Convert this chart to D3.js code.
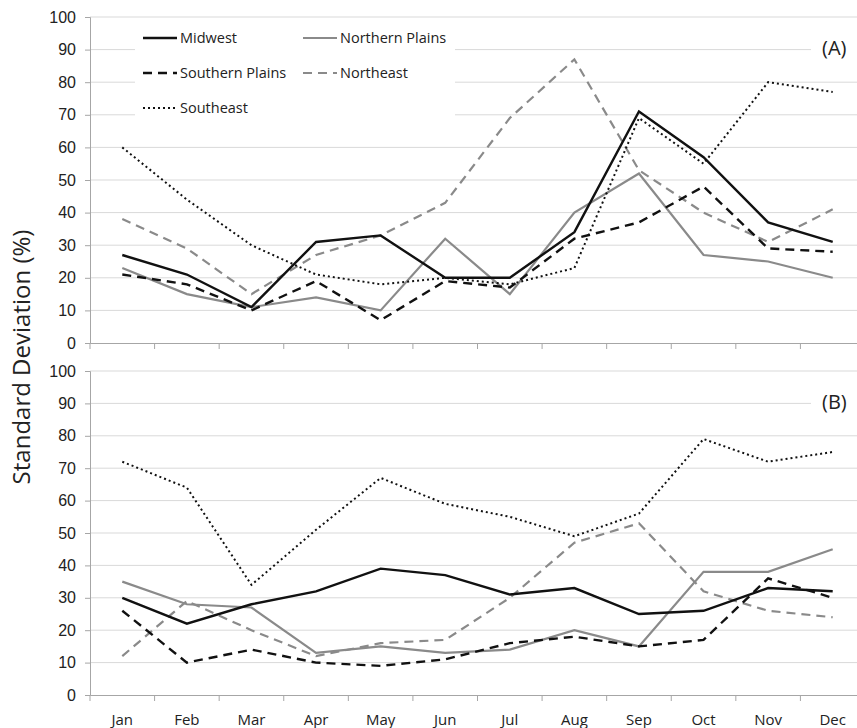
<!DOCTYPE html>
<html>
<head>
<meta charset="utf-8">
<script src="https://cdn.jsdelivr.net/npm/d3@7/dist/d3.min.js"></script>
<style>
  body { margin: 0; background: #fff; }
  svg { display: block; font-family: 'Open Sans', 'Noto Sans', sans-serif; }
  .tick-label { fill: #222; font-size: 16px; }
</style>
</head>
<body>
<svg width="857" height="728"></svg>
<script>
const months = ['Jan', 'Feb', 'Mar', 'Apr', 'May', 'Jun', 'Jul', 'Aug', 'Sep', 'Oct', 'Nov', 'Dec'];
const yTicks = [0, 10, 20, 30, 40, 50, 60, 70, 80, 90, 100];
const regions = ['Midwest', 'Northern Plains', 'Southern Plains', 'Northeast', 'Southeast'];

// panel (A)
const midwestA = [27, 21, 11, 31, 33, 20, 20, 34, 71, 57, 37, 31];
const northernPlainsA = [23, 15, 11, 14, 10, 32, 15, 40, 52, 27, 25, 20];
const southernPlainsA = [21, 18, 10, 19, 7, 19, 17, 32, 37, 48, 29, 28];
const northeastA = [38, 29, 15, 27, 33, 43, 69, 87, 53, 40, 31, 41];
const southeastA = [60, 44, 30, 21, 18, 20, 18, 23, 69, 55, 80, 77];

// panel (B)
const midwestB = [30, 22, 28, 32, 39, 37, 31, 33, 25, 26, 33, 32];
const northernPlainsB = [35, 28, 27, 13, 15, 13, 14, 20, 15, 38, 38, 45];
const southernPlainsB = [26, 10, 14, 10, 9, 11, 16, 18, 15, 17, 36, 30];
const northeastB = [12, 29, 20, 12, 16, 17, 30, 47, 53, 32, 26, 24];
const southeastB = [72, 64, 34, 51, 67, 59, 55, 49, 56, 79, 72, 75];

const styles = {
  'Midwest': { color: '#111', width: 2.4, dash: null },
  'Northern Plains': { color: '#8a8a8a', width: 2.2, dash: null },
  'Southern Plains': { color: '#111', width: 2.4, dash: '9,6' },
  'Northeast': { color: '#8a8a8a', width: 2.2, dash: '9,6' },
  'Southeast': { color: '#111', width: 2, dash: '2,3' }
};

const svg = d3.select('svg');
const x = d3.scaleBand().domain(months).range([90, 865]);

const panels = [
  { tag: '(A)', top: 17, bottom: 343, series: [midwestA, northernPlainsA, southernPlainsA, northeastA, southeastA] },
  { tag: '(B)', top: 371, bottom: 695, series: [midwestB, northernPlainsB, southernPlainsB, northeastB, southeastB] }
];

panels.forEach((p, pi) => {
  const y = d3.scaleLinear().domain([0, 100]).range([p.bottom, p.top]);
  const g = svg.append('g');

  // gridlines
  g.selectAll('.grid')
    .data(yTicks.filter(d => d > 0))
    .enter().append('line')
    .attr('x1', 90).attr('x2', 857)
    .attr('y1', d => y(d)).attr('y2', d => y(d))
    .attr('stroke', '#d9d9d9').attr('stroke-width', 1);

  // y axis
  const ya = g.append('g')
    .attr('transform', 'translate(90,0)')
    .call(d3.axisLeft(y).tickValues(yTicks).tickSize(5).tickPadding(9));
  ya.select('.domain').attr('stroke', '#a6a6a6');
  ya.selectAll('.tick line').attr('stroke', '#a6a6a6');
  ya.selectAll('.tick text').attr('class', 'tick-label').attr('font-family', null).attr('font-size', null);

  // x axis
  const xa = g.append('g')
    .attr('transform', `translate(0,${p.bottom})`)
    .call(d3.axisBottom(x).tickSize(0).tickFormat(''));
  xa.select('.domain').attr('stroke', '#a6a6a6');
  g.selectAll('.xtick')
    .data(months)
    .enter().append('line')
    .attr('x1', d => x(d)).attr('x2', d => x(d))
    .attr('y1', p.bottom).attr('y2', p.bottom + 6)
    .attr('stroke', '#a6a6a6');

  if (pi === 1) {
    g.selectAll('.mlabel')
      .data(months)
      .enter().append('text')
      .attr('class', 'tick-label')
      .style('font-size', '15px')
      .attr('x', d => x(d) + x.bandwidth() / 2)
      .attr('y', p.bottom + 30)
      .attr('text-anchor', 'middle')
      .text(d => d);
  }

  // tag box covering gridline
  g.append('rect')
    .attr('x', 811).attr('y', p.top + 12).attr('width', 46).attr('height', 36)
    .attr('fill', '#fff');
  g.append('text')
    .attr('x', 822).attr('y', p.top + 38)
    .attr('font-size', 20).attr('fill', '#222')
    .text(p.tag);

  const line = d3.line()
    .x((d, i) => x(months[i]) + x.bandwidth() / 2)
    .y(d => y(d));

  // gray first so black lies on top
  const order = [3, 1, 4, 2, 0];
  order.forEach(si => {
    const st = styles[regions[si]];
    g.append('path')
      .datum(p.series[si])
      .attr('d', line)
      .attr('fill', 'none')
      .attr('stroke', st.color)
      .attr('stroke-width', st.width)
      .attr('stroke-dasharray', st.dash)
      .attr('stroke-linejoin', 'miter');
  });
});

// legend for panel A
svg.append('rect')
  .attr('x', 135).attr('y', 24).attr('width', 320).attr('height', 100)
  .attr('fill', '#fff');

const legendPos = [
  { x: 143, y: 38 }, { x: 303, y: 38 },
  { x: 143, y: 73 }, { x: 303, y: 73 },
  { x: 143, y: 108 }
];

regions.forEach((r, i) => {
  const st = styles[r];
  const lp = legendPos[i];
  svg.append('line')
    .attr('x1', lp.x).attr('x2', lp.x + 34)
    .attr('y1', lp.y).attr('y2', lp.y)
    .attr('stroke', st.color)
    .attr('stroke-width', st.width)
    .attr('stroke-dasharray', st.dash);
  svg.append('text')
    .attr('x', lp.x + 37).attr('y', lp.y + 5)
    .attr('font-size', 14.5).attr('fill', '#222')
    .text(r);
});

// y axis title
svg.append('text')
  .attr('transform', 'translate(30,357) rotate(-90)')
  .attr('text-anchor', 'middle')
  .attr('font-size', 24)
  .attr('fill', '#222')
  .text('Standard Deviation (%)');
</script>
</body>
</html>
